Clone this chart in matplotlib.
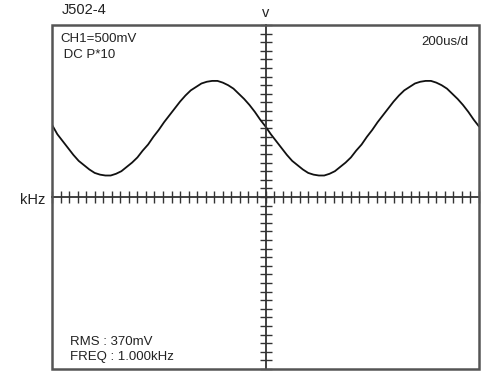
import matplotlib
matplotlib.use("Agg")
import matplotlib.pyplot as plt
from matplotlib.patches import Rectangle
from matplotlib.ticker import MultipleLocator

plt.rcParams["font.family"] = ["Liberation Sans", "DejaVu Sans"]

# Data: time (us) and voltage (V), 500 mV/div, 200 us/div
time_us = [0, 25, 50, 75, 100, 125, 150, 175, 200, 225, 250, 275, 300, 325, 350, 375,
           400, 425, 450, 475, 500, 525, 550, 575, 600, 625, 650, 675, 700, 725,
           750, 775, 800, 825, 850, 875, 900, 925, 950, 975, 1000,
           1025, 1050, 1075, 1100, 1125, 1150, 1175, 1200, 1225, 1250, 1275, 1300,
           1325, 1350, 1375, 1400, 1425, 1450, 1475, 1500, 1525, 1550, 1575, 1600,
           1625, 1650, 1675, 1700, 1725, 1750, 1775, 1800, 1825, 1850, 1875, 1900,
           1925, 1950, 1975, 2000]
volts = [0.84, 0.73, 0.65, 0.57, 0.49, 0.42, 0.37, 0.32, 0.28, 0.26, 0.25, 0.25, 0.27,
         0.30, 0.35, 0.40, 0.46, 0.54, 0.61, 0.70, 0.78, 0.87, 0.95, 1.03, 1.11, 1.18,
         1.24, 1.28, 1.32, 1.34, 1.35, 1.35, 1.33, 1.30, 1.26, 1.20, 1.14, 1.07, 0.99,
         0.90, 0.82,
         0.73, 0.65, 0.57, 0.49, 0.42, 0.37, 0.32, 0.28, 0.26, 0.25, 0.25, 0.27,
         0.30, 0.35, 0.40, 0.46, 0.54, 0.61, 0.70, 0.78, 0.87, 0.95, 1.03, 1.11,
         1.18, 1.24, 1.28, 1.32, 1.34, 1.35, 1.35, 1.33, 1.30, 1.26, 1.20, 1.14,
         1.07, 0.99, 0.90, 0.82]

title_text = "J502-4"
x_unit = "kHz"
y_unit = "v"
info_top_left = ["CH1=500mV", " DC P*10"]
info_top_right = "200us/d"
info_bottom_left = ["RMS : 370mV", "FREQ : 1.000kHz"]

x_range = (0, 2000)
y_range = (-2.0, 2.0)
x_center = 1000
x_minor = 40
y_minor = 0.1

W, H = 491, 371
fig = plt.figure(figsize=(W / 100, H / 100), dpi=100)
left, right, top, bottom = 52, 479, 25, 369
ax = fig.add_axes([left / W, (H - bottom) / H, (right - left) / W, (bottom - top) / H])
ax.set_xlim(*x_range)
ax.set_ylim(*y_range)

ax.plot(time_us, volts, color="#111111", lw=1.3, solid_capstyle="round",
        solid_joinstyle="round")

# centered axes with ticks
for s in ["top", "right"]:
    ax.spines[s].set_visible(False)
ax.spines["left"].set_position(("data", x_center))
ax.spines["bottom"].set_position(("data", 0))
for s in ["left", "bottom"]:
    ax.spines[s].set_color("#333333")
    ax.spines[s].set_linewidth(1.3)
ax.xaxis.set_major_locator(MultipleLocator(x_minor))
ax.yaxis.set_major_locator(MultipleLocator(y_minor))
ax.tick_params(axis="both", direction="inout", length=8, width=1.0, color="#333333",
               labelbottom=False, labelleft=False)

# outer frame
ax.add_patch(Rectangle((0, 0), 1, 1, transform=ax.transAxes, fill=False,
                       edgecolor="#555555", lw=1.8, clip_on=False, zorder=5))

tc = "#222222"
fs = 9.5
fig.text(62 / W, 1 - 10 / H, title_text, fontsize=10.5, color=tc, va="center", ha="left")
fig.text(266 / W, 1 - 13 / H, y_unit, fontsize=10.5, color=tc, va="center", ha="center")
fig.text(45 / W, 1 - 200 / H, x_unit, fontsize=10.5, color=tc, va="center", ha="right")
fig.text(60 / W, 1 - 39 / H, info_top_left[0], fontsize=fs, color=tc, va="center", ha="left")
fig.text(60 / W, 1 - 55 / H, info_top_left[1], fontsize=fs, color=tc, va="center", ha="left")
fig.text(468 / W, 1 - 42 / H, info_top_right, fontsize=fs, color=tc, va="center", ha="right")
fig.text(70 / W, 1 - 342 / H, info_bottom_left[0], fontsize=fs, color=tc, va="center", ha="left")
fig.text(70 / W, 1 - 357 / H, info_bottom_left[1], fontsize=fs, color=tc, va="center", ha="left")

fig.savefig("out.png", dpi=100)
